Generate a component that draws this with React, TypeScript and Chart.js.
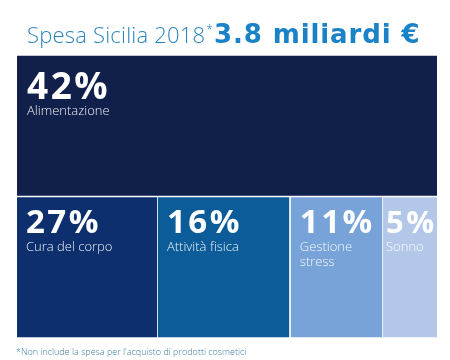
import { useEffect, useRef } from 'react';
import { Chart, registerables } from 'chart.js';

Chart.register(...registerables);

// ---- data ----
const categories = ['Alimentazione', 'Cura del corpo', 'Attività fisica', 'Gestione stress', 'Sonno'];
const shares = [42, 27, 16, 11, 5];
const rows = ['top', 'bottom'];
const cellRow = ['top', 'bottom', 'bottom', 'bottom', 'bottom'];
// treemap cell extents on a 0–100 horizontal layout scale
const cellStart = [0, 0, 33.55, 65.2, 87.15];
const cellEnd = [100, 33.35, 64.8, 86.95, 100];

const titleText = 'Spesa Sicilia 2018';
const titleTotal = '3.8 miliardi €';
const footnote = "*Non include la spesa per l'acquisto di prodotti cosmetici";

// ---- styles ----
const cellColors = ['#111f4b', '#0d2f6d', '#0b5c98', '#78a3d8', '#b3c8e8'];
const FONT = '"Open Sans", Lato, sans-serif';

const labelPlugin = {
  id: 'cellLabels',
  afterDatasetsDraw(chart: any) {
    const ctx = chart.ctx;
    const meta = chart.getDatasetMeta(0);
    meta.data.forEach((el: any, i: number) => {
      const p = el.getProps(['x', 'y', 'base', 'height'], true);
      const left = Math.min(p.x, p.base);
      const width = Math.abs(p.x - p.base);
      const top = p.y - p.height / 2;
      const isTop = cellRow[i] === 'top';
      const pad = width < 60 ? 3 : isTop ? 10 : 9;
      const pctSize = isTop ? 37 : width < 60 ? 31 : 33;
      const pctBase = isTop ? 43 : 36;
      ctx.save();
      ctx.fillStyle = '#ffffff';
      ctx.textBaseline = 'alphabetic';
      ctx.textAlign = 'left';
      ctx.font = `bold ${pctSize}px ${FONT}`;
      (ctx as any).letterSpacing = '2.5px';
      ctx.fillText(shares[i] + '%', left + pad, top + pctBase);
      ctx.font = `300 13px ${FONT}`;
      (ctx as any).letterSpacing = '0px';
      ctx.fillStyle = 'rgba(255,255,255,0.92)';
      // wrap label to cell width
      const words = categories[i].split(' ');
      const lines: string[] = [];
      let cur = '';
      const maxW = width - pad * 2;
      words.forEach((w) => {
        const t = cur ? cur + ' ' + w : w;
        if (cur && ctx.measureText(t).width > maxW) {
          lines.push(cur);
          cur = w;
        } else cur = t;
      });
      if (cur) lines.push(cur);
      lines.forEach((ln, k) => {
        ctx.fillText(ln, left + pad, top + pctBase + (isTop ? 16 : 18) + k * 15);
      });
      ctx.restore();
    });
  },
};

export default function App() {
  const ref = useRef<HTMLCanvasElement>(null);
  useEffect(() => {
    if (!ref.current) return;
    const chart = new Chart(ref.current, {
      type: 'bar',
      data: {
        labels: rows,
        datasets: [
          {
            data: categories.map((_, i) => ({ x: [cellStart[i], cellEnd[i]], y: cellRow[i] })) as any,
            backgroundColor: cellColors,
            borderWidth: 0,
            barPercentage: 0.99,
            categoryPercentage: 1,
          },
        ],
      },
      options: {
        indexAxis: 'y',
        animation: false,
        responsive: false,
        devicePixelRatio: 1,
        layout: { padding: { left: 17, right: 13, top: 55, bottom: 22 } },
        plugins: { legend: { display: false }, tooltip: { enabled: false }, title: { display: false } },
        scales: {
          x: { type: 'linear', min: 0, max: 100, display: false },
          y: { type: 'category', labels: rows, display: false, offset: true },
        },
      },
      plugins: [labelPlugin],
    });
    return () => chart.destroy();
  }, []);

  return (
    <div style={{ position: 'fixed', left: 0, top: 0, width: 450, height: 360, background: '#ffffff', overflow: 'hidden' }}>
      <canvas ref={ref} width={450} height={360} style={{ position: 'absolute', left: 0, top: 0 }} />
      <div
        style={{
          position: 'absolute',
          left: 27,
          top: 19,
          whiteSpace: 'nowrap',
          lineHeight: '30px',
          display: 'flex',
          alignItems: 'baseline',
        }}
      >
        <span style={{ fontFamily: FONT, fontSize: 22, fontWeight: 300, color: '#2a86bd', letterSpacing: 0.2 }}>{titleText}</span>
        <span style={{ fontFamily: FONT, fontSize: 12, fontWeight: 300, color: '#2a86bd', position: 'relative', top: -9, marginLeft: 1 }}>*</span>
        <span style={{ fontFamily: '"DejaVu Sans", sans-serif', fontSize: 26, fontWeight: 700, color: '#1a82c6', marginLeft: 1, letterSpacing: 0.9 }}>{titleTotal}</span>
      </div>
      <div
        style={{
          position: 'absolute',
          left: 16,
          top: 345,
          fontFamily: FONT,
          fontSize: 9,
          fontWeight: 300,
          color: '#3f7f9e',
          whiteSpace: 'nowrap',
        }}
      >
        {footnote}
      </div>
    </div>
  );
}
